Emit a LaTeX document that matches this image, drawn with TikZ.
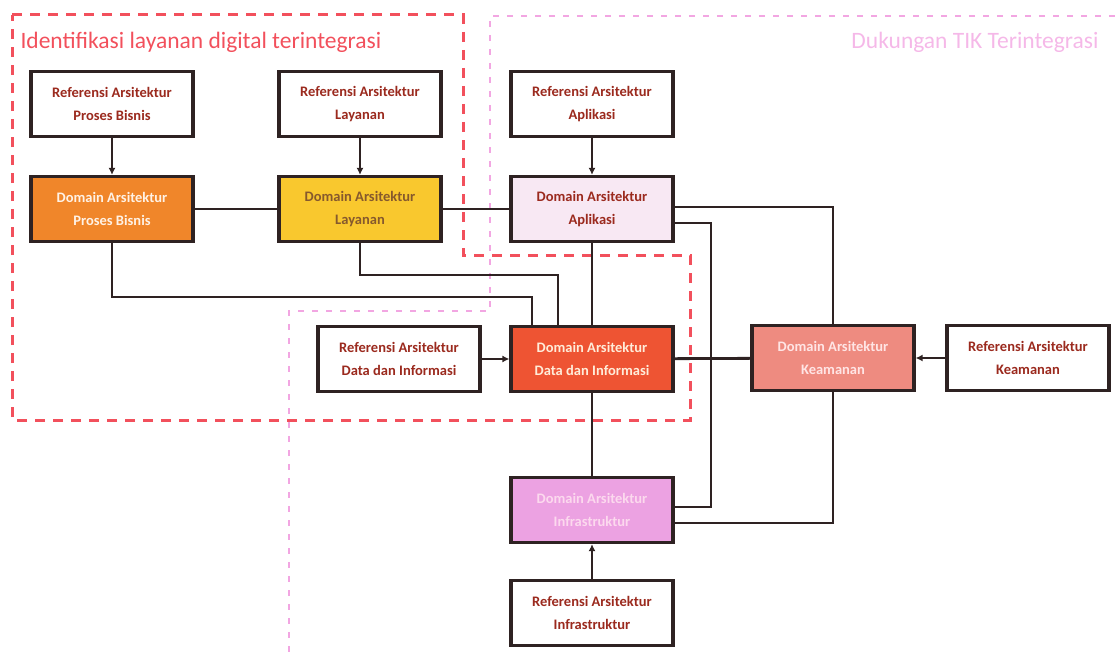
\documentclass[tikz,border=0pt]{standalone}
\usepackage{fontspec}
\setmainfont{Carlito}
\usetikzlibrary{arrows.meta}
\definecolor{edge}{HTML}{2E2222}
\definecolor{reftext}{HTML}{9B2A1E}
\definecolor{pbfill}{HTML}{F0862A}
\definecolor{layfill}{HTML}{F9C82E}
\definecolor{aplfill}{HTML}{F8E8F3}
\definecolor{datafill}{HTML}{EE5433}
\definecolor{keamfill}{HTML}{EE8B80}
\definecolor{infrafill}{HTML}{ECA2E2}
\definecolor{redzone}{HTML}{F2505C}
\definecolor{pinkzone}{HTML}{F2A6E2}
\tikzset{
  box/.style={draw=edge, line width=3.2pt, minimum width=162pt, minimum height=65pt,
    align=center, font=\fontsize{14.5}{23}\selectfont\bfseries, inner sep=0pt},
  refbox/.style={box, fill=white, text=reftext},
  link/.style={draw=edge, line width=2.8pt},
  feed/.style={link, -{Latex[length=7pt,width=7pt]}},
}
\begin{document}
\begin{tikzpicture}[x=1pt,y=-1pt]
\useasboundingbox (0,0) rectangle (1115,658);

% zone outlines
\draw[redzone, line width=3pt, dash pattern=on 10pt off 8pt]
  (12,15) -- (463,15) -- (463,255) -- (690,255) -- (690,420) -- (12,420) -- cycle;
\draw[pinkzone, line width=1.2pt, dash pattern=on 6pt off 8pt]
  (1115,16) -- (490,16) -- (490,311) -- (289,311) -- (289,658);
\node[anchor=west, text=redzone, font=\fontsize{23.5}{26}\selectfont] (t1) at (17,42)
  {Identifikasi layanan digital terintegrasi};
\node[anchor=east, text=pinkzone!80, font=\fontsize{23.5}{26}\selectfont] (t2) at (1102,42)
  {Dukungan TIK Terintegrasi};

% reference boxes
\node[refbox] (rpb) at (112,104) {Referensi Arsitektur\\Proses Bisnis};
\node[refbox] (rlay) at (360,104) {Referensi Arsitektur\\Layanan};
\node[refbox] (rapl) at (592,104) {Referensi Arsitektur\\Aplikasi};
\node[refbox] (rdata) at (399,359) {Referensi Arsitektur\\Data dan Informasi};
\node[refbox] (rkeam) at (1028,358) {Referensi Arsitektur\\Keamanan};
\node[refbox] (rinfra) at (592,613) {Referensi Arsitektur\\Infrastruktur};

% domain boxes
\node[box, fill=pbfill, text=white!90!orange] (dpb) at (112,209) {Domain Arsitektur\\Proses Bisnis};
\node[box, fill=layfill, text=brown!70!black] (dlay) at (360,209) {Domain Arsitektur\\Layanan};
\node[box, fill=aplfill, text=reftext] (dapl) at (592,209) {Domain Arsitektur\\Aplikasi};
\node[box, fill=datafill, text=white!85!orange] (ddata) at (592,359) {Domain Arsitektur\\Data dan Informasi};
\node[box, fill=keamfill, text=white!90!red] (dkeam) at (833,358) {Domain Arsitektur\\Keamanan};
\node[box, fill=infrafill, text=white!85!magenta] (dinfra) at (592,510) {Domain Arsitektur\\Infrastruktur};

% references feeding their domains
\draw[feed] (rpb) -- (dpb);
\draw[feed] (rlay) -- (dlay);
\draw[feed] (rapl) -- (dapl);
\draw[feed] (rdata) -- (ddata);
\draw[feed] (rkeam) -- (dkeam);
\draw[feed] (rinfra) -- (dinfra);

% links between domains
\draw[link] (dpb) -- (dlay);
\draw[link] (dlay) -- (dapl);
\draw[link] (dapl) -- (ddata);
\draw[link] (ddata) -- (dinfra);
\draw[link] (ddata) -- (dkeam);
\draw[link] (dpb.south) |- (532,297) -- (532,359 |- ddata.north);
\draw[link] (dlay.south) |- (558,275) -- (558,359 |- ddata.north);
\draw[link] (dapl.east |- 0,207) -| (dkeam.north);
\draw[link] (dapl.east |- 0,223) -| (711,507) -- (dinfra.east |- 0,507);
\draw[link] (dinfra.east |- 0,523) -| (dkeam.south);
\end{tikzpicture}
\end{document}
